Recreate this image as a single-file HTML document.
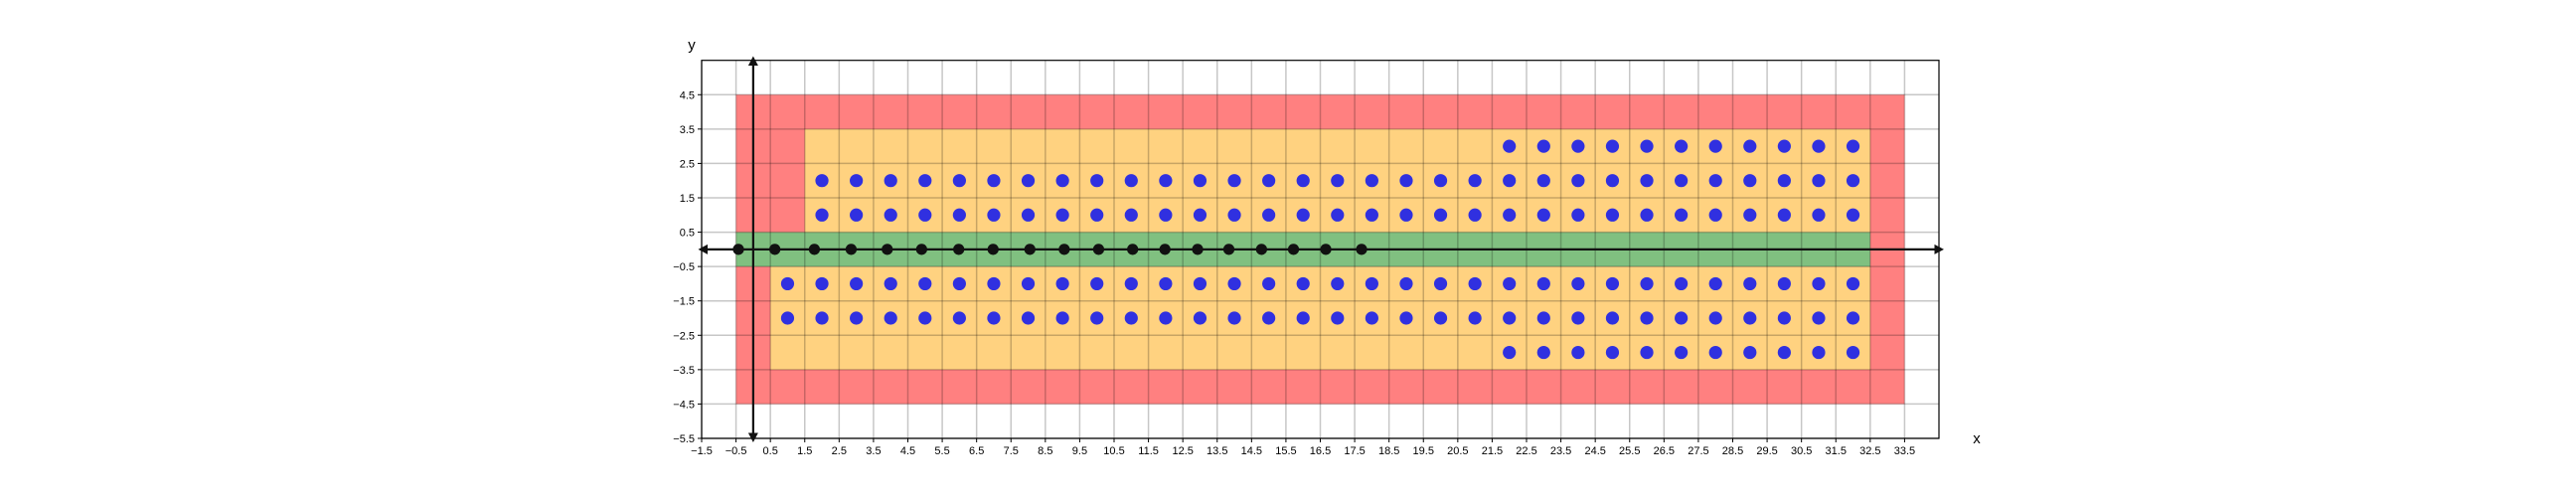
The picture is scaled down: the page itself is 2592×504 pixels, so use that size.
<!DOCTYPE html>
<html><head><meta charset="utf-8"><style>
html,body{margin:0;padding:0;background:#fff;}
svg{display:block;font-family:"Liberation Sans",sans-serif;}
</style></head><body>
<svg id="chart" width="2592" height="504" viewBox="0 0 2592 504" xmlns="http://www.w3.org/2000/svg"></svg>
<script>
const xTicks=[-1.5,-0.5,0.5,1.5,2.5,3.5,4.5,5.5,6.5,7.5,8.5,9.5,10.5,11.5,12.5,13.5,14.5,15.5,16.5,17.5,18.5,19.5,20.5,21.5,22.5,23.5,24.5,25.5,26.5,27.5,28.5,29.5,30.5,31.5,32.5,33.5];
const yTicks=[-5.5,-4.5,-3.5,-2.5,-1.5,-0.5,0.5,1.5,2.5,3.5,4.5];
// regions: [x0,x1,y0,y1,color]
const regionNames=['red-border','upper-orange','lower-orange','green-band'];
const regionX0=[-0.5,1.5,0.5,-0.5];
const regionX1=[33.5,32.5,32.5,32.5];
const regionY0=[-4.5,0.5,-3.5,-0.5];
const regionY1=[4.5,3.5,-0.5,0.5];
const regionColors=['#ff8080','#ffd280','#ffd280','#80c080'];
const blackX=[-0.43,0.63,1.78,2.85,3.9,4.9,5.98,6.98,8.05,9.05,10.05,11.04,11.98,12.93,13.84,14.79,15.72,16.66,17.7];
// blue point rows: y value, first x, last x
const blueRowY=[2,1,-1,-2,3,-3];
const blueRowStart=[2,2,1,1,22,22];
const blueRowEnd=[32,32,32,32,32,32];

const L=706,R=1951,T=60.7,B=441;
const xmin=-1.5,xmax=34.5,ymin=-5.5,ymax=5.5;
const sx=v=>L+(v-xmin)/(xmax-xmin)*(R-L);
const sy=v=>B-(v-ymin)/(ymax-ymin)*(B-T);
const svg=document.getElementById('chart');
const NS='http://www.w3.org/2000/svg';
function mk(tag,attrs,parent){const e=document.createElementNS(NS,tag);for(const k in attrs)e.setAttribute(k,attrs[k]);(parent||svg).appendChild(e);return e;}

for(let i=0;i<regionNames.length;i++){
  const r=mk('rect',{x:sx(regionX0[i]),y:sy(regionY1[i]),width:sx(regionX1[i])-sx(regionX0[i]),height:sy(regionY0[i])-sy(regionY1[i]),fill:regionColors[i]});
  
  
}
// grid
const grid=mk('g',{stroke:'#000','stroke-opacity':'0.22','stroke-width':'1.5'});


xTicks.forEach(v=>{mk('line',{x1:sx(v),x2:sx(v),y1:T,y2:B},grid);});
yTicks.forEach(v=>{mk('line',{x1:L,x2:R,y1:sy(v),y2:sy(v)},grid);});
// frame
const fr=mk('rect',{x:L,y:T,width:R-L,height:B-T,fill:'none',stroke:'#000','stroke-width':'1.2'});


// ticks and labels
const xt=mk('g',{'font-size':'11','text-anchor':'middle',fill:'#000'});


xTicks.forEach(v=>{
  mk('line',{x1:sx(v),x2:sx(v),y1:B,y2:B+4,stroke:'#000','stroke-width':'1'},xt);
  const t=mk('text',{x:sx(v),y:B+16},xt);t.textContent=String(v).replace('-','\u2212');
});
const yt=mk('g',{'font-size':'11','text-anchor':'end',fill:'#000'});


yTicks.forEach(v=>{
  mk('line',{x1:L-4,x2:L,y1:sy(v),y2:sy(v),stroke:'#000','stroke-width':'1'},yt);
  const t=mk('text',{x:L-7,y:sy(v)+4},yt);t.textContent=String(v).replace('-','\u2212');
});
const xl=mk('text',{x:1989,y:446,'font-size':'15','text-anchor':'middle'});xl.textContent='x';


const yl=mk('text',{x:696,y:50,'font-size':'15','text-anchor':'middle'});yl.textContent='y';


// axis arrows
const ax=mk('g',{stroke:'#111','stroke-width':'2.2',fill:'#111'});


const x0=sx(0),y0=sy(0);
mk('line',{x1:x0,x2:x0,y1:63,y2:438},ax);
mk('polygon',{points:`${x0},56.5 ${x0-5},66 ${x0+5},66`,stroke:'none'},ax);
mk('polygon',{points:`${x0},445 ${x0-5},435.5 ${x0+5},435.5`,stroke:'none'},ax);
mk('line',{x1:708,x2:1950,y1:y0,y2:y0},ax);
mk('polygon',{points:`702.5,${y0} 712,${y0-5} 712,${y0+5}`,stroke:'none'},ax);
mk('polygon',{points:`1956,${y0} 1946.5,${y0-5} 1946.5,${y0+5}`,stroke:'none'},ax);
// blue points
const bg=mk('g',{fill:'#3030e0'});


for(let r=0;r<blueRowY.length;r++){
  for(let x=blueRowStart[r];x<=blueRowEnd[r];x++){
    const c=mk('circle',{cx:sx(x),cy:sy(blueRowY[r]),r:6.6},bg);
    
    
  }
}
// black points
const kg=mk('g',{fill:'#111'});


blackX.forEach(v=>{
  const c=mk('circle',{cx:sx(v),cy:y0,r:5.6},kg);
  
  
});
</script>
</body></html>
